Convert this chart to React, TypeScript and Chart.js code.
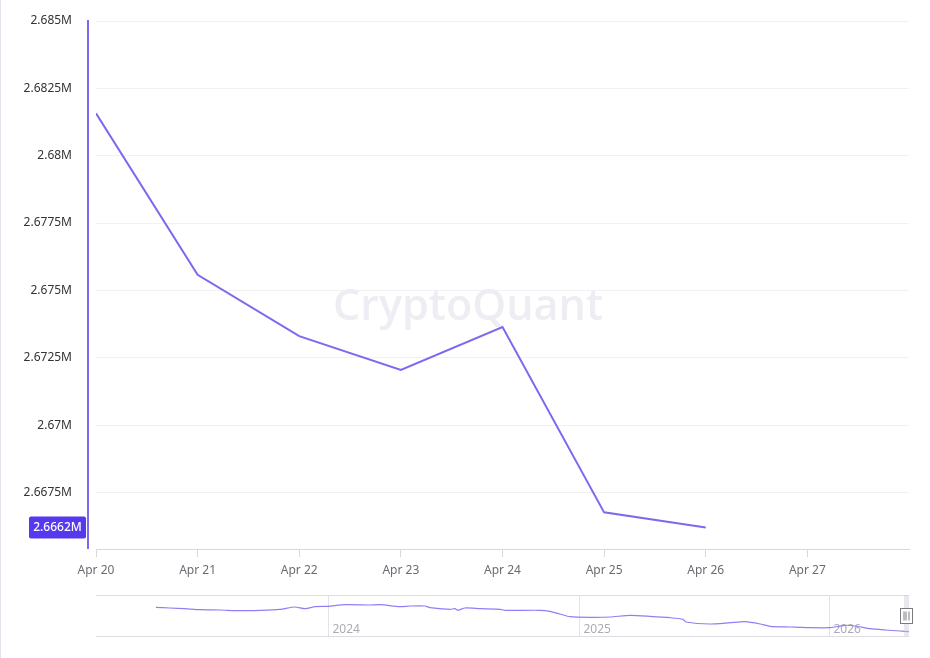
import React, { useEffect, useRef } from 'react';
import { Chart, registerables } from 'chart.js';

Chart.register(...registerables);

// ---- main chart data ----
const dayLabels = ['Apr 20', 'Apr 21', 'Apr 22', 'Apr 23', 'Apr 24', 'Apr 25', 'Apr 26', 'Apr 27'];
const seriesValues = [2.68157, 2.67558, 2.6733, 2.67205, 2.67364, 2.66676, 2.6662];
const yTickValues = [2.6675, 2.67, 2.6725, 2.675, 2.6775, 2.68, 2.6825, 2.685];
const yMin = 2.6654;
const yMax = 2.685;
const xMaxDay = 8;
const lastValueLabel = '2.6662M';

// ---- navigator (overview) data ----
const navYears = [
  2023.313, 2023.369, 2023.429, 2023.489, 2023.569, 2023.649, 2023.729, 2023.808, 2023.868, 2023.908,
  2023.948, 2024.0, 2024.068, 2024.168, 2024.208, 2024.287, 2024.327, 2024.387, 2024.407, 2024.487,
  2024.507, 2024.519, 2024.547, 2024.607, 2024.687, 2024.707, 2024.846, 2024.886, 2024.926, 2024.966,
  2025.046, 2025.126, 2025.206, 2025.285, 2025.365, 2025.417, 2025.429, 2025.525, 2025.605, 2025.665,
  2025.725, 2025.764, 2025.844, 2025.924, 2026.004, 2026.064, 2026.104, 2026.164, 2026.224, 2026.283,
  2026.319,
];
const navValues = [
  2.7638, 2.761, 2.7582, 2.7542, 2.753, 2.7502, 2.7518, 2.7558, 2.765, 2.7582,
  2.7662, 2.7678, 2.7742, 2.773, 2.7742, 2.7662, 2.769, 2.769, 2.7622, 2.7558,
  2.7582, 2.7518, 2.761, 2.7582, 2.7558, 2.7518, 2.7518, 2.7478, 2.737, 2.7262,
  2.7238, 2.725, 2.7318, 2.7278, 2.7222, 2.7158, 2.705, 2.697, 2.7022, 2.7062,
  2.697, 2.6878, 2.685, 2.6822, 2.6822, 2.6918, 2.689, 2.6782, 2.673, 2.669,
  2.6662,
];
const navYearTicks = [2024, 2025, 2026];
const navXMin = 2023.074;
const navXMax = 2026.319;
const navYMin = 2.649;
const navYMax = 2.813;

const FONT = "'Noto Sans', 'DejaVu Sans', sans-serif";
const LINE_COLOR = '#7b69ef';

const fmtM = (v: number) => `${parseFloat(v.toFixed(4))}M`;

export default function App() {
  const mainRef = useRef<HTMLCanvasElement | null>(null);
  const navRef = useRef<HTMLCanvasElement | null>(null);

  useEffect(() => {
    Chart.defaults.font.family = FONT;

    const watermark = {
      id: 'watermark',
      beforeDatasetsDraw(chart: any) {
        const ctx = chart.ctx;
        ctx.save();
        ctx.font = `600 48px 'Open Sans', sans-serif`;
        const w = ctx.measureText('CryptoQuant').width;
        const size = (48 * 270) / w;
        ctx.font = `600 ${size}px 'Open Sans', sans-serif`;
        ctx.fillStyle = '#ededf3';
        ctx.textAlign = 'left';
        ctx.textBaseline = 'alphabetic';
        ctx.fillText('CryptoQuant', 333, 320);
        ctx.restore();
      },
    };

    const decorations = {
      id: 'decorations',
      afterDraw(chart: any) {
        const ctx = chart.ctx;
        const { top, bottom, left } = chart.chartArea;
        ctx.save();
        ctx.strokeStyle = LINE_COLOR;
        ctx.lineWidth = 2;
        ctx.beginPath();
        ctx.moveTo(left - 8, top - 1);
        ctx.lineTo(left - 8, bottom);
        ctx.stroke();
        const yScale = chart.scales.y;
        const last = seriesValues[seriesValues.length - 1];
        const py = yScale.getPixelForValue(last);
        const bx = 29, bw = 57, bh = 22;
        ctx.fillStyle = '#5638ef';
        ctx.beginPath();
        (ctx as any).roundRect ? ctx.roundRect(bx, py - bh / 2, bw, bh, 2) : ctx.rect(bx, py - bh / 2, bw, bh);
        ctx.fill();
        ctx.fillStyle = '#ffffff';
        ctx.font = `500 12px ${FONT}`;
        ctx.textAlign = 'center';
        ctx.textBaseline = 'middle';
        ctx.fillText(lastValueLabel, bx + bw / 2, py + 0.5);
        ctx.restore();
      },
    };

    const main = new Chart(mainRef.current as HTMLCanvasElement, {
      type: 'line',
      data: {
        datasets: [
          {
            data: seriesValues.map((v, i) => ({ x: i, y: v })),
            borderColor: LINE_COLOR,
            borderWidth: 2,
            pointRadius: 0,
            tension: 0,
            fill: false,
          },
        ],
      },
      options: {
        animation: false,
        responsive: false,
        layout: { padding: { left: 0, right: 21, top: 21, bottom: 0 } },
        plugins: { legend: { display: false }, tooltip: { enabled: false } },
        scales: {
          x: {
            type: 'linear',
            min: 0,
            max: xMaxDay,
            afterBuildTicks: (scale: any) => {
              scale.ticks = dayLabels.map((_, i) => ({ value: i }));
            },
            afterFit: (scale: any) => {
              scale.height = 36;
              scale.paddingLeft = 0;
              scale.paddingRight = 0;
            },
            grid: {
              drawOnChartArea: false,
              drawTicks: true,
              tickLength: 8,
              color: '#d8d8df',
            },
            border: { display: true, color: '#d8d8df' },
            ticks: {
              color: '#6b6b73',
              padding: 6,
              font: { size: 12, family: FONT },
              maxRotation: 0,
              autoSkip: false,
              callback: (v: any) => dayLabels[Math.round(Number(v))] ?? '',
            },
          },
          y: {
            type: 'linear',
            min: yMin,
            max: yMax,
            afterBuildTicks: (scale: any) => {
              scale.ticks = yTickValues.map((v) => ({ value: v }));
            },
            afterFit: (scale: any) => {
              scale.width = 96;
              scale.paddingTop = 0;
              scale.paddingBottom = 0;
            },
            grid: { color: '#f1f1f4', drawTicks: false },
            border: { display: false },
            ticks: {
              color: '#333333',
              padding: 24,
              font: { size: 12, family: FONT },
              callback: (v: any) => fmtM(Number(v)),
            },
          },
        },
      } as any,
      plugins: [watermark, decorations],
    });

    const navDecor = {
      id: 'navDecor',
      beforeDatasetsDraw(chart: any) {
        const ctx = chart.ctx;
        const { top, bottom, left, right } = chart.chartArea;
        const xs = chart.scales.x;
        ctx.save();
        ctx.strokeStyle = '#dcdce3';
        ctx.lineWidth = 1;
        ctx.beginPath();
        ctx.moveTo(left, top + 0.5);
        ctx.lineTo(right, top + 0.5);
        ctx.moveTo(left, bottom + 0.5);
        ctx.lineTo(right, bottom + 0.5);
        ctx.stroke();
        ctx.strokeStyle = '#e2e2e8';
        ctx.fillStyle = '#ababb3';
        ctx.font = `12px ${FONT}`;
        ctx.textAlign = 'left';
        ctx.textBaseline = 'alphabetic';
        navYearTicks.forEach((yr) => {
          const px = Math.round(xs.getPixelForValue(yr)) + 0.5;
          ctx.beginPath();
          ctx.moveTo(px, top);
          ctx.lineTo(px, bottom);
          ctx.stroke();
          ctx.fillText(String(yr), px + 4, bottom - 3.5);
        });
        ctx.restore();
      },
      afterDraw(chart: any) {
        const ctx = chart.ctx;
        const { top, bottom, right } = chart.chartArea;
        ctx.save();
        ctx.fillStyle = 'rgba(205,205,222,0.45)';
        ctx.fillRect(right - 5, top, 5, bottom - top);
        const hx = right - 8.5, hy = 23.5, hw = 12, hh = 15;
        ctx.fillStyle = '#ffffff';
        ctx.fillRect(hx, hy, hw, hh);
        ctx.strokeStyle = '#7a7a80';
        ctx.lineWidth = 1;
        ctx.strokeRect(hx, hy, hw, hh);
        ctx.beginPath();
        ctx.moveTo(hx + 3.5, hy + 3);
        ctx.lineTo(hx + 3.5, hy + hh - 3);
        ctx.moveTo(hx + 5.5, hy + 3);
        ctx.lineTo(hx + 5.5, hy + hh - 3);
        ctx.moveTo(hx + 8.5, hy + 3);
        ctx.lineTo(hx + 8.5, hy + hh - 3);
        ctx.stroke();
        ctx.restore();
      },
    };

    const nav = new Chart(navRef.current as HTMLCanvasElement, {
      type: 'line',
      data: {
        datasets: [
          {
            data: navYears.map((x, i) => ({ x, y: navValues[i] })),
            borderColor: '#8e7ff5',
            borderWidth: 1.2,
            pointRadius: 0,
            tension: 0.2,
            fill: false,
          },
        ],
      },
      options: {
        animation: false,
        responsive: false,
        layout: { padding: { left: 96, right: 21, top: 10, bottom: 22 } },
        plugins: { legend: { display: false }, tooltip: { enabled: false } },
        scales: {
          x: { type: 'linear', min: navXMin, max: navXMax, display: false },
          y: { type: 'linear', min: navYMin, max: navYMax, display: false },
        },
      } as any,
      plugins: [navDecor],
    });

    return () => {
      main.destroy();
      nav.destroy();
    };
  }, []);

  return (
    <div
      style={{
        position: 'fixed',
        left: 0,
        top: 0,
        width: 930,
        height: 658,
        background: '#ffffff',
        boxSizing: 'border-box',
        borderLeft: '1px solid #e3e3eb',
        overflow: 'hidden',
      }}
    >
      <canvas
        ref={mainRef}
        width={930}
        height={585}
        style={{ position: 'absolute', left: -1, top: 0, width: 930, height: 585 }}
      />
      <canvas
        ref={navRef}
        width={930}
        height={73}
        style={{ position: 'absolute', left: -1, top: 585, width: 930, height: 73 }}
      />
    </div>
  );
}
